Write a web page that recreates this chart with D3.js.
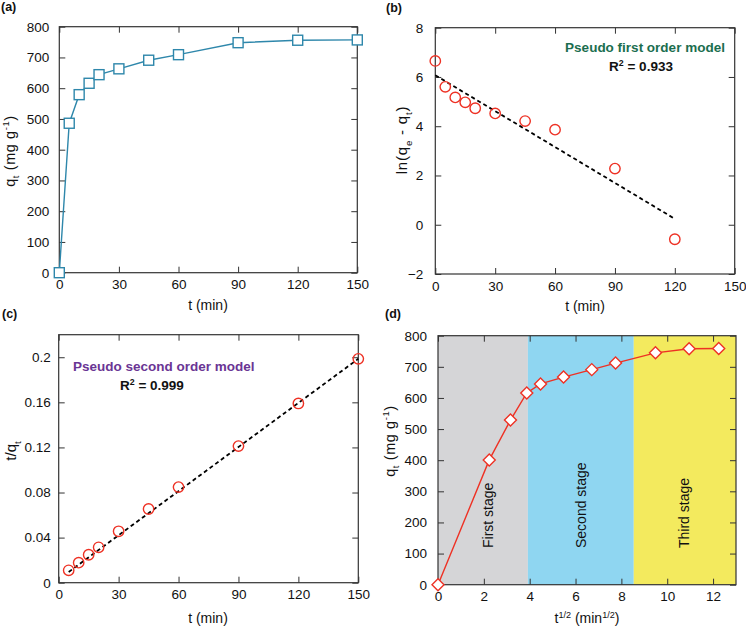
<!DOCTYPE html>
<meta charset="utf-8">
<html>
<head>
<style>
  body { margin: 0; background: #fff; }
  svg text { font-family: "Liberation Sans", Arial, sans-serif; }
</style>
</head>
<body>
<script src="https://cdn.jsdelivr.net/npm/d3@7"></script>
<div id="my_dataviz"></div>
<script>

    // ---- data ----
    // (a) adsorption vs time
    var tA = [0, 5, 10, 15, 20, 30, 45, 60, 90, 120, 150];
    var qA = [0, 486, 579, 616, 644, 663, 691, 709, 748, 756, 757];

    // (b) pseudo first order
    var tB = [0, 5, 10, 15, 20, 30, 45, 60, 90, 120];
    var lnB = [6.65, 5.6, 5.17, 4.97, 4.73, 4.52, 4.21, 3.86, 2.28, -0.59];
    var fitBt = [0, 120];
    var fitBy = [6.07, 0.24];

    // (c) pseudo second order
    var tC = [5, 10, 15, 20, 30, 45, 60, 90, 120, 150];
    var tqC = [0.0110, 0.0178, 0.0248, 0.0314, 0.0456, 0.0654, 0.0848, 0.1212, 0.1590, 0.1986];
    var fitCt = [5, 150];
    var fitCy = [0.0095, 0.1986];

    // (d) intraparticle diffusion
    var sqrtD = [0, 2.236, 3.162, 3.873, 4.472, 5.477, 6.708, 7.746, 9.487, 10.954, 12.247];
    var qD = [0, 401, 529, 616, 645, 667, 691, 712, 745, 758, 759];
    var stageEdges = [0, 3.92, 8.54, 13];
    var stageNames = ["First stage", "Second stage", "Third stage"];
    var stageLabelX = [2.2, 6.25, 10.75];

    // tick values
    var tTicks = [0, 30, 60, 90, 120, 150];
    var qTicks = [0, 100, 200, 300, 400, 500, 600, 700, 800];
    var lnTicks = [-2, 0, 2, 4, 6, 8];
    var tqTicks = [0, 0.04, 0.08, 0.12, 0.16, 0.2];
    var sqrtTicks = [0, 2, 4, 6, 8, 10, 12];

    var svg = d3.select("#my_dataviz")
      .append("svg")
        .attr("width", 746)
        .attr("height", 629);

    var frameColor = "#333";

    // make a panel: scales + group (background layer first)
    function panel(box, xDom, yDom) {
      var g = svg.append("g");
      var p = {
        g: g,
        bg: g.append("g"),
        box: box,
        x: d3.scaleLinear().domain(xDom).range([box.l, box.r]),
        y: d3.scaleLinear().domain(yDom).range([box.b, box.t])
      };
      return p;
    }

    // four-sided frame with inward ticks
    function axes(p, xTicks, yTicks, yFmt, yPad) {
      var b = p.box;
      function style(sel) {
        sel.attr("font-size", 13.5).attr("font-family", null);
        sel.select(".domain").remove();
        sel.selectAll(".tick line").attr("stroke", frameColor);
        sel.selectAll(".tick text").attr("fill", "#111");
      }
      p.g.append("g").attr("transform", "translate(0," + b.b + ")")
        .call(d3.axisBottom(p.x).tickValues(xTicks).tickSize(-6).tickPadding(7).tickFormat(d3.format("d")))
        .call(style);
      p.g.append("g").attr("transform", "translate(0," + b.t + ")")
        .call(d3.axisTop(p.x).tickValues(xTicks).tickSize(-6).tickFormat(""))
        .call(style);
      p.g.append("g").attr("transform", "translate(" + b.l + ",0)")
        .call(d3.axisLeft(p.y).tickValues(yTicks).tickSize(-6).tickPadding(yPad).tickFormat(yFmt))
        .call(style);
      p.g.append("g").attr("transform", "translate(" + b.r + ",0)")
        .call(d3.axisRight(p.y).tickValues(yTicks).tickSize(-6).tickFormat(""))
        .call(style);
      p.g.append("rect")
        .attr("x", b.l).attr("y", b.t)
        .attr("width", b.r - b.l).attr("height", b.b - b.t)
        .attr("fill", "none").attr("stroke", frameColor).attr("stroke-width", 1.2);
    }

    // text with sub / superscripts: parts = [[text, "sub"|"sup"|""], ...]
    function rich(g, x, y, parts, size, opts) {
      opts = opts || {};
      var t = g.append("text")
        .attr("x", x).attr("y", y)
        .attr("font-size", size)
        .attr("text-anchor", opts.anchor || "middle")
        .attr("font-weight", opts.weight || "normal")
        .attr("fill", opts.fill || "#111");
      if (opts.spacing) t.attr("letter-spacing", opts.spacing);
      if (opts.rotate) t.attr("transform", "rotate(-90," + x + "," + y + ")");
      var shift = 0;
      parts.forEach(function(pt) {
        var s = t.append("tspan").text(pt[0]);
        var target = pt[1] == "sub" ? size * 0.3 : pt[1] == "sup" ? -size * 0.38 : 0;
        s.attr("dy", target - shift);
        if (pt[1]) s.attr("font-size", size * 0.65);
        shift = target;
      });
      return t;
    }

    function label(txt, x, y) {
      svg.append("text").attr("x", x).attr("y", y)
        .attr("font-size", 12.5).attr("font-weight", "bold").attr("fill", "#111")
        .text(txt);
    }

    // ---------------- (a) ----------------
    var pa = panel({l: 59.3, r: 357.3, t: 26.7, b: 272.7}, [0, 150], [0, 800]);
    axes(pa, tTicks, qTicks, d3.format("d"), 10);
    var lineA = d3.line().x(function(d, i) { return pa.x(tA[i]); }).y(function(d) { return pa.y(d); });
    pa.g.append("path").datum(qA).attr("d", lineA)
      .attr("fill", "none").attr("stroke", "#2e87ab").attr("stroke-width", 1.4);
    pa.g.selectAll(".sq").data(qA).enter().append("rect")
      .attr("x", function(d, i) { return pa.x(tA[i]) - 5; })
      .attr("y", function(d) { return pa.y(d) - 5; })
      .attr("width", 10).attr("height", 10)
      .attr("fill", "#fff").attr("stroke", "#2e87ab").attr("stroke-width", 1.4);
    rich(svg, 208, 310, [["t (min)", ""]], 14);
    rich(svg, 15, 151, [["q", ""], ["t", "sub"], [" (mg g", ""], ["-1", "sup"], [")", ""]], 14.5, {rotate: true, spacing: 0.6});
    label("(a)", 1, 11);

    // ---------------- (b) ----------------
    var pb = panel({l: 435.3, r: 734.7, t: 27.7, b: 274}, [0, 150], [-2, 8]);
    axes(pb, tTicks, lnTicks, d3.format("d"), 12);
    pb.g.append("line")
      .attr("x1", pb.x(fitBt[0])).attr("y1", pb.y(fitBy[0]))
      .attr("x2", pb.x(fitBt[1])).attr("y2", pb.y(fitBy[1]))
      .attr("stroke", "#000").attr("stroke-width", 1.8).attr("stroke-dasharray", "4,3");
    pb.g.selectAll(".c").data(lnB).enter().append("circle")
      .attr("cx", function(d, i) { return pb.x(tB[i]); })
      .attr("cy", function(d) { return pb.y(d); })
      .attr("r", 5.2).attr("fill", "none").attr("stroke", "#ee3124").attr("stroke-width", 1.4);
    rich(svg, 645, 52, [["Pseudo first order model", ""]], 13.5, {weight: "bold", fill: "#1b6e4f"});
    rich(svg, 641, 71, [["R", ""], ["2", "sup"], [" = 0.933", ""]], 13.5, {weight: "bold"});
    rich(svg, 585, 311, [["t (min)", ""]], 14);
    rich(svg, 407, 140, [["ln(q", ""], ["e", "sub"], [" - q", ""], ["t", "sub"], [")", ""]], 15, {rotate: true, spacing: 0.8});
    label("(b)", 386, 12);

    // ---------------- (c) ----------------
    var pc = panel({l: 58.7, r: 358.3, t: 334.7, b: 582.7}, [0, 150], [0, 0.22]);
    axes(pc, tTicks, tqTicks, function(d) { return d === 0 ? "0" : String(+d.toFixed(2)); }, 8);
    pc.g.append("line")
      .attr("x1", pc.x(fitCt[0])).attr("y1", pc.y(fitCy[0]))
      .attr("x2", pc.x(fitCt[1])).attr("y2", pc.y(fitCy[1]))
      .attr("stroke", "#000").attr("stroke-width", 1.8).attr("stroke-dasharray", "4,3");
    pc.g.selectAll(".c").data(tqC).enter().append("circle")
      .attr("cx", function(d, i) { return pc.x(tC[i]); })
      .attr("cy", function(d) { return pc.y(d); })
      .attr("r", 5.2).attr("fill", "none").attr("stroke", "#ee3124").attr("stroke-width", 1.4);
    rich(svg, 73, 371, [["Pseudo second order model", ""]], 13.5, {anchor: "start", weight: "bold", fill: "#6a3594"});
    rich(svg, 120, 390, [["R", ""], ["2", "sup"], [" = 0.999", ""]], 13.5, {anchor: "start", weight: "bold"});
    rich(svg, 208, 623, [["t (min)", ""]], 14);
    rich(svg, 16, 451, [["t/q", ""], ["t", "sub"]], 15, {rotate: true});
    label("(c)", 2, 318);

    // ---------------- (d) ----------------
    var pd = panel({l: 438, r: 736, t: 335.7, b: 584.7}, [0, 13], [0, 800]);
    var stageFill = ["#d5d5d7", "#8fd6f1", "#f3ea5e"];
    stageNames.forEach(function(name, i) {
      pd.bg.append("rect")
        .attr("x", pd.x(stageEdges[i])).attr("y", pd.box.t)
        .attr("width", pd.x(stageEdges[i + 1]) - pd.x(stageEdges[i]))
        .attr("height", pd.box.b - pd.box.t)
        .attr("fill", stageFill[i]);
      rich(pd.bg, pd.x(stageLabelX[i]) + 5, 548, [[name, ""]], 14, {anchor: "start", rotate: true});
    });
    axes(pd, sqrtTicks, qTicks, d3.format("d"), 11);
    var lineD = d3.line().x(function(d, i) { return pd.x(sqrtD[i]); }).y(function(d) { return pd.y(d); });
    pd.g.append("path").datum(qD).attr("d", lineD)
      .attr("fill", "none").attr("stroke", "#ee3124").attr("stroke-width", 1.4);
    pd.g.selectAll(".dm").data(qD).enter().append("path")
      .attr("d", "M0,-6L6,0L0,6L-6,0Z")
      .attr("transform", function(d, i) { return "translate(" + pd.x(sqrtD[i]) + "," + pd.y(d) + ")"; })
      .attr("fill", "#fff").attr("stroke", "#ee3124").attr("stroke-width", 1.4);
    rich(svg, 587, 623, [["t", ""], ["1/2", "sup"], [" (min", ""], ["1/2", "sup"], [")", ""]], 14);
    rich(svg, 395, 441, [["q", ""], ["t", "sub"], [" (mg g", ""], ["-1", "sup"], [")", ""]], 14.5, {rotate: true, spacing: 0.6});
    label("(d)", 385, 318);

</script>
</body>
</html>
